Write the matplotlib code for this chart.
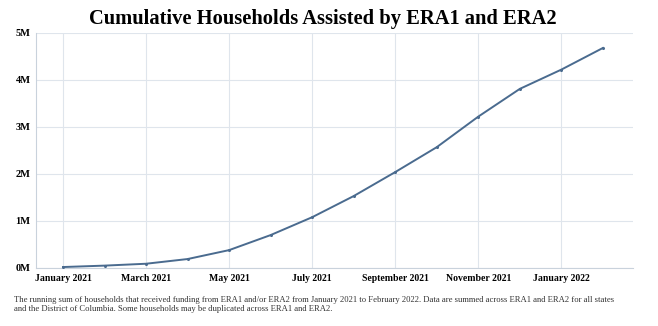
import matplotlib.pyplot as plt
import numpy as np

plt.rcParams["font.family"] = ["Liberation Serif", "DejaVu Serif"]

# cumulative households assisted, in millions
months = ["2021-01", "2021-02", "2021-03", "2021-04", "2021-05", "2021-06", "2021-07",
          "2021-08", "2021-09", "2021-10", "2021-11", "2021-12", "2022-01", "2022-02"]
households_m = [0.02, 0.05, 0.09, 0.19, 0.38, 0.70, 1.08,
                1.53, 2.04, 2.57, 3.22, 3.81, 4.22, 4.68]

tick_labels = ["January 2021", "March 2021", "May 2021", "July 2021",
               "September 2021", "November 2021", "January 2022"]
ytick_labels = ["0M", "1M", "2M", "3M", "4M", "5M"]

x = np.arange(len(months))
line_color = "#4a6b8f"
grid_color = "#dfe5ec"

fig = plt.figure(figsize=(6.58, 3.26), dpi=100)
ax = fig.add_axes([0.0547, 0.178, 0.907, 0.721])

ax.plot(x, households_m, color=line_color, lw=1.4, marker="o", ms=1.2, zorder=3)

ax.set_xlim(-0.65, 13.72)
ax.set_ylim(0, 5)
ax.set_xticks(x[::2])
ax.set_xticklabels(tick_labels, fontsize=7, fontweight="bold")
ax.set_yticks(range(6))
ax.set_yticklabels(ytick_labels, fontsize=7.5, fontweight="bold")
ax.tick_params(length=0, pad=4)

ax.grid(True, color=grid_color, lw=0.8)
ax.set_axisbelow(True)
for side in ["top", "right"]:
    ax.spines[side].set_visible(False)
for side in ["left", "bottom"]:
    ax.spines[side].set_color("#c9d2dc")
    ax.spines[side].set_linewidth(0.8)

fig.text(0.49, 0.942, "Cumulative Households Assisted by ERA1 and ERA2",
         ha="center", va="center", fontsize=14.8, fontweight="bold")

caption = ("The running sum of households that received funding from ERA1 and/or ERA2 from January 2021 to February 2022. "
           "Data are summed across ERA1 and ERA2 for all states\n"
           "and the District of Columbia. Some households may be duplicated across ERA1 and ERA2.")
fig.text(0.022, 0.093, caption, ha="left", va="top", fontsize=6.25, color="#333333", linespacing=1.2)

fig.savefig("out.png", dpi=100)
